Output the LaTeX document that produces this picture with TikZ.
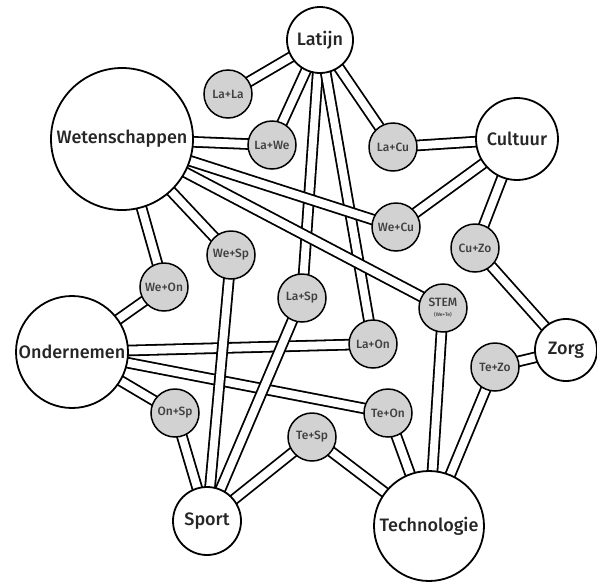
\documentclass[tikz,border=0pt]{standalone}
\usepackage{fontspec}
\setmainfont{Fira Sans}[UprightFont={* Medium}]
\usetikzlibrary{backgrounds}

\begin{document}
\begin{tikzpicture}[x=1pt,y=-1pt]

% definitions
\tikzstyle{subject} = [circle, draw=black, line width=1.8pt, fill=white, text=black!85, inner sep=0pt, font=\fontsize{18}{20}\selectfont]

\tikzstyle{combo} = [circle, draw=black, line width=1.5pt, fill=gray!35, minimum size=48pt, inner sep=0pt, text=black!75, font=\fontsize{12}{13}\selectfont]

\tikzstyle{link} = [draw=black, line width=1.8pt, double=white, double distance=8pt]

\useasboundingbox (0,0) rectangle (597,584);

% the subjects
\node (la) [subject, minimum size=66pt] at (320,40) {Latijn};
\node (we) [subject, minimum size=142pt] at (122,139) {Wetenschappen};
\node (cu) [subject, minimum size=82pt] at (517,139) {Cultuur};
\node (zo) [subject, minimum size=62pt] at (566,350) {Zorg};
\node (on) [subject, minimum size=112pt] at (72,352) {Ondernemen};
\node (sp) [subject, minimum size=68pt] at (207,521) {Sport};
\node (te) [subject, minimum size=110pt] at (429,526) {Technologie};

% the combinations
\node (lala) [combo] at (228,94) {La+La};
\node (lawe) [combo] at (272,145) {La+We};
\node (lacu) [combo] at (393,147) {La+Cu};
\node (wecu) [combo] at (396,227) {We+Cu};
\node (cuzo) [combo] at (475,248) {Cu+Zo};
\node (wesp) [combo] at (231,255) {We+Sp};
\node (weon) [combo] at (164,287) {We+On};
\node (lasp) [combo] at (302,298) {La+Sp};
\node (stem) [combo, align=center] at (443,308) {STEM\\[-3pt]{\fontsize{5}{5}\selectfont (We+Te)}};
\node (laon) [combo] at (373,344) {La+On};
\node (tezo) [combo] at (495,367) {Te+Zo};
\node (teon) [combo] at (388,413) {Te+On};
\node (tesp) [combo] at (312,437) {Te+Sp};
\node (onsp) [combo] at (175,413) {On+Sp};

% the links
\begin{pgfonlayer}{background}
\draw [link] (la.center) -- (lala.center);
\draw [link] (la.center) -- (lawe.center);
\draw [link] (la.center) -- (lacu.center);
\draw [link] (la.center) -- (lasp.center);
\draw [link] (la.center) -- (laon.center);
\draw [link] (we.center) -- (lawe.center);
\draw [link] (we.center) -- (wecu.center);
\draw [link] (we.center) -- (stem.center);
\draw [link] (we.center) -- (wesp.center);
\draw [link] (we.center) -- (weon.center);
\draw [link] (cu.center) -- (lacu.center);
\draw [link] (cu.center) -- (wecu.center);
\draw [link] (cu.center) -- (cuzo.center);
\draw [link] (zo.center) -- (cuzo.center);
\draw [link] (zo.center) -- (tezo.center);
\draw [link] (on.center) -- (weon.center);
\draw [link] (on.center) -- (laon.center);
\draw [link] (on.center) -- (teon.center);
\draw [link] (on.center) -- (onsp.center);
\draw [link] (sp.center) -- (onsp.center);
\draw [link] (sp.center) -- (wesp.center);
\draw [link] (sp.center) -- (lasp.center);
\draw [link] (sp.center) -- (tesp.center);
\draw [link] (te.center) -- (tesp.center);
\draw [link] (te.center) -- (teon.center);
\draw [link] (te.center) -- (stem.center);
\draw [link] (te.center) -- (tezo.center);
\end{pgfonlayer}

\end{tikzpicture}
\end{document}
